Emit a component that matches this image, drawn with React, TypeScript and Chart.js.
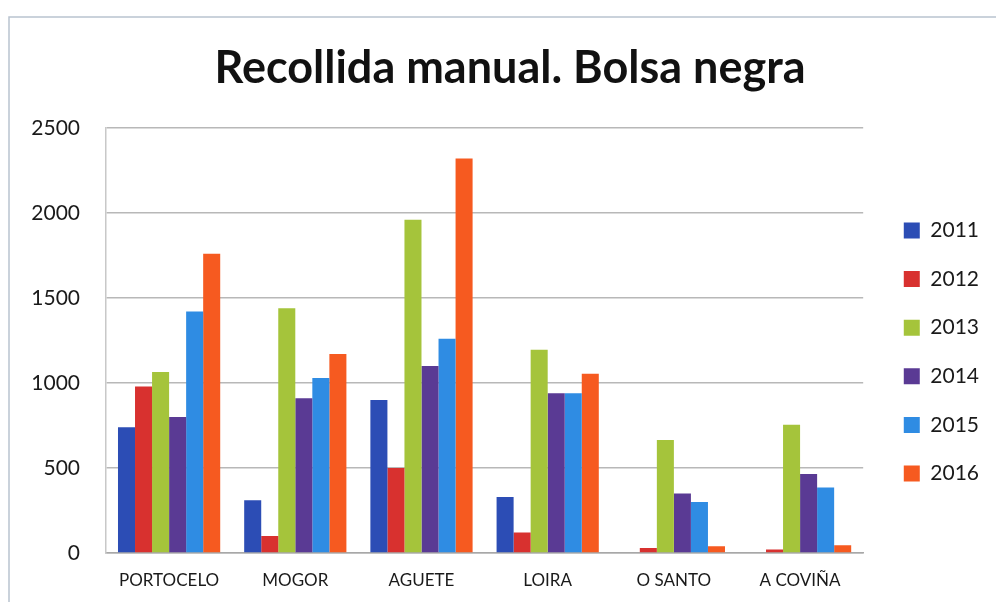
import React, { useEffect, useRef } from "react";
import { Chart, registerables } from "chart.js";

Chart.register(...registerables);

const categories = ["PORTOCELO", "MOGOR", "AGUETE", "LOIRA", "O SANTO", "A COVIÑA"];
const years = ["2011", "2012", "2013", "2014", "2015", "2016"];
const values2011 = [740, 310, 900, 330, 0, 0];
const values2012 = [980, 100, 500, 120, 30, 20];
const values2013 = [1065, 1440, 1960, 1195, 665, 755];
const values2014 = [800, 910, 1100, 940, 350, 465];
const values2015 = [1420, 1030, 1260, 940, 300, 385];
const values2016 = [1760, 1170, 2320, 1055, 40, 45];
const yTicks = [0, 500, 1000, 1500, 2000, 2500];
const colors = ["#2c4db5", "#d8312f", "#a5c43b", "#5a3a94", "#2f8ce3", "#f65a20"];
const titleText = "Recollida manual. Bolsa negra";

const seriesValues = [values2011, values2012, values2013, values2014, values2015, values2016];

const framePlugin = {
  id: "frame",
  beforeDraw(chart: any) {
    const ctx = chart.ctx;
    ctx.save();
    ctx.fillStyle = "#ffffff";
    ctx.fillRect(0, 0, chart.width, chart.height);
    ctx.strokeStyle = "#b9c3d0";
    ctx.lineWidth = 1.5;
    ctx.beginPath();
    ctx.moveTo(996, 17);
    ctx.lineTo(9, 17);
    ctx.lineTo(9, 602);
    ctx.stroke();
    ctx.restore();
  },
  afterDraw(chart: any) {
    const ctx = chart.ctx;
    ctx.save();
    ctx.fillStyle = "#111111";
    ctx.font = "bold 45px Lato";
    ctx.textAlign = "center";
    ctx.textBaseline = "alphabetic";
    ctx.fillText(titleText, 510, 83);
    ctx.restore();
  },
};

export default function App() {
  const ref = useRef<HTMLCanvasElement | null>(null);
  useEffect(() => {
    if (!ref.current) return;
    const chart = new Chart(ref.current, {
      type: "bar",
      data: {
        labels: categories,
        datasets: years.map((y, i) => ({
          label: y,
          data: seriesValues[i],
          backgroundColor: colors[i],
          borderWidth: 0,
          categoryPercentage: 0.81,
          barPercentage: 1,
        })),
      },
      options: {
        responsive: false,
        animation: false,
        layout: { padding: { top: 128, left: 0, right: 7, bottom: 0 } },
        plugins: {
          title: { display: false },
          tooltip: { enabled: false },
          legend: {
            position: "right",
            align: "start",
            title: { display: true, text: " ", font: { size: 10 }, padding: 26.2 },
            labels: {
              boxWidth: 16,
              boxHeight: 16,
              padding: 27.6,
              color: "#1a1a1a",
              font: { family: "Lato", size: 21 },
            },
          },
        },
        scales: {
          x: {
            grid: { display: false, drawTicks: false },
            border: { color: "#a8a8a8", width: 1.5 },
            ticks: {
              color: "#1a1a1a",
              font: { family: "Lato", size: 17 },
              padding: 17,
              maxRotation: 0,
            },
            afterFit(scale: any) {
              scale.height = 49;
            },
          },
          y: {
            min: 0,
            max: 2500,
            afterBuildTicks(scale: any) {
              scale.ticks = yTicks.map((v) => ({ value: v }));
            },
            grid: { color: "#b8b8b8", lineWidth: 1.5, drawTicks: false },
            border: { color: "#c8c8c8", width: 1.5 },
            ticks: {
              color: "#1a1a1a",
              font: { family: "Lato", size: 21 },
              padding: 26,
              callback: (v: any) => String(v),
            },
            afterFit(scale: any) {
              scale.width = 106;
            },
          },
          yr: {
            position: "right",
            display: true,
            grid: { display: false, drawTicks: false },
            border: { display: false },
            ticks: { display: false },
            afterFit(scale: any) {
              scale.width = 13;
            },
          },
        },
      },
      plugins: [framePlugin],
    } as any);
    return () => chart.destroy();
  }, []);
  return (
    <div style={{ position: "fixed", left: 0, top: 0, width: 996, height: 602 }}>
      <canvas ref={ref} width={996} height={602} style={{ display: "block" }} />
    </div>
  );
}
